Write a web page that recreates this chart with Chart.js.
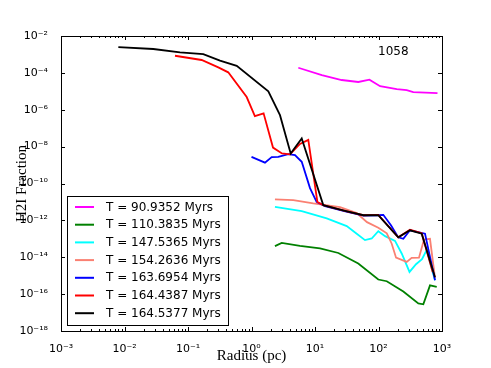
<!DOCTYPE html>
<html>
<head>
<meta charset="utf-8">
<script src="https://cdn.jsdelivr.net/npm/chart.js@4/dist/chart.umd.min.js"></script>
<style>
    html, body { margin: 0; padding: 0; background: #fff; }
    #wrap { width: 491px; height: 368px; }
</style>
</head>
<body>
<div id="wrap"><canvas id="h2Chart" width="491" height="368"></canvas></div>
<script>
// Radius (pc) and H2I fraction per snapshot
const labels = ['T = 90.9352 Myrs', 'T = 110.3835 Myrs', 'T = 147.5365 Myrs', 'T = 154.2636 Myrs',
                'T = 163.6954 Myrs', 'T = 164.4387 Myrs', 'T = 164.5377 Myrs'];
const colors = ['#ff00ff', '#008000', '#00ffff', '#fa8072', '#0000ff', '#ff0000', '#000000'];

const rad909 = [5.46, 12.8, 26.3, 48.1, 72, 106, 194, 278, 353, 849];
const h2909 = [1.9e-4, 7.6e-5, 4.1e-5, 3.2e-5, 4.3e-5, 1.9e-5, 1.3e-5, 1.17e-5, 9.1e-6, 8.0e-6];

const rad1103 = [2.34, 2.99, 5.8, 12, 23.3, 48, 99.3, 135, 246, 424, 508, 647, 826];
const h21103 = [4.0e-14, 6.0e-14, 4.1e-14, 3.0e-14, 1.7e-14, 4.6e-15, 6.2e-16, 5.0e-16, 1.4e-16, 3.1e-17, 2.8e-17, 3.0e-16, 2.5e-16];

const rad1475 = [2.34, 6.18, 15.3, 31.6, 45.4, 61.3, 78.2, 99.3, 127, 182, 232, 308, 390, 484, 581, 647, 776];
const h21475 = [5.4e-12, 3.2e-12, 1.27e-12, 4.9e-13, 1.9e-13, 8.5e-14, 1.04e-13, 2.6e-13, 1.4e-13, 7.7e-14, 1.6e-14, 1.6e-15, 4.2e-15, 7.8e-15, 2.7e-14, 5.4e-15, 5.7e-16];

const rad1542 = [2.34, 4.55, 9.4, 24.8, 45.4, 65.9, 99.3, 135, 161, 189, 278, 333, 434, 521, 647, 776];
const h21542 = [1.36e-11, 1.25e-11, 8.3e-12, 5.2e-12, 2.5e-12, 8.0e-13, 4.0e-13, 2.0e-13, 5.6e-14, 9.5e-15, 5.6e-15, 9.2e-15, 9.5e-15, 9.2e-14, 1.0e-13, 7.3e-16];

const rad1636 = [1.0, 1.63, 2.08, 2.64, 3.8, 4.84, 6.18, 8.34, 10.6, 14.4, 30, 58, 99, 119, 157, 205, 246, 313, 540, 776];
const h21636 = [2.8e-9, 1.35e-9, 2.7e-9, 2.8e-9, 3.9e-9, 3.5e-9, 1.5e-9, 5.6e-11, 1.0e-11, 5.9e-12, 3.1e-12, 1.8e-12, 1.9e-12, 2.0e-12, 5.5e-13, 1.2e-13, 1.0e-13, 2.9e-13, 1.9e-13, 5.7e-16];

const rad1644 = [0.0624, 0.164, 0.30, 0.43, 0.84, 1.13, 1.55, 2.18, 3.02, 4.04, 5.8, 7.84, 10.9, 13.5, 29.7, 57.7, 99.3, 205, 313, 479, 714];
const h21644 = [8.5e-4, 5.0e-4, 2.0e-4, 1.07e-4, 4.9e-6, 4.5e-7, 6.4e-7, 8.9e-9, 4.3e-9, 3.8e-9, 1.4e-8, 2.3e-8, 1.0e-11, 6.7e-12, 3.3e-12, 1.9e-12, 2.0e-12, 1.2e-13, 3.1e-13, 2.0e-13, 1.6e-15];

const rad1645 = [0.008, 0.0284, 0.0748, 0.174, 0.319, 0.585, 1.84, 2.81, 4.14, 6.18, 13.5, 29.7, 57.7, 99.3, 205, 313, 479, 776];
const h21645 = [2.5e-3, 1.97e-3, 1.3e-3, 1.05e-3, 4.6e-4, 2.4e-4, 1.0e-5, 5.1e-7, 4.2e-9, 2.8e-8, 6.7e-12, 3.3e-12, 1.9e-12, 1.9e-12, 1.2e-13, 2.9e-13, 1.9e-13, 8.3e-16];

const radii = [rad909, rad1103, rad1475, rad1542, rad1636, rad1644, rad1645];
const fractions = [h2909, h21103, h21475, h21542, h21636, h21644, h21645];

// tick positions (decades) and their labels
const xTickVals = [1e-3, 1e-2, 1e-1, 1e0, 1e1, 1e2, 1e3];
const xTickLabels = ['10⁻³', '10⁻²', '10⁻¹', '10⁰', '10¹', '10²', '10³'];
const yTickVals = [1e-18, 1e-16, 1e-14, 1e-12, 1e-10, 1e-8, 1e-6, 1e-4, 1e-2];
const yTickLabels = ['10⁻¹⁸', '10⁻¹⁶', '10⁻¹⁴', '10⁻¹²', '10⁻¹⁰', '10⁻⁸', '10⁻⁶', '10⁻⁴', '10⁻²'];

const datasets = labels.map((lab, i) => ({
    label: lab,
    data: radii[i].map((r, j) => ({ x: r, y: fractions[i][j] })),
    borderColor: colors[i],
    backgroundColor: colors[i],
    borderWidth: 1.8,
    pointRadius: 0,
    tension: 0,
    fill: false,
    order: labels.length - 1 - i // later snapshots on top
}));

// frame, inward ticks, run number and legend box (matplotlib look)
const framePlugin = {
    id: 'frame',
    afterDraw(chart) {
        const ctx = chart.ctx;
        const a = chart.chartArea;
        const xs = chart.scales.x, ys = chart.scales.y;
        ctx.save();
        ctx.strokeStyle = '#000';
        ctx.lineWidth = 1;
        ctx.strokeRect(Math.round(a.left) + 0.5, Math.round(a.top) + 0.5, Math.round(a.right - a.left), Math.round(a.bottom - a.top));

        ctx.beginPath();
        for (let e = -3; e <= 3; e++) {
            for (let k = 1; k <= 9; k++) {
                if (e === 3 && k > 1) break;
                const px = Math.round(xs.getPixelForValue(k * Math.pow(10, e))) + 0.5;
                const len = k === 1 ? 4 : 2;
                ctx.moveTo(px, a.bottom); ctx.lineTo(px, a.bottom - len);
                ctx.moveTo(px, a.top); ctx.lineTo(px, a.top + len);
            }
        }
        yTickVals.forEach(v => {
            const py = Math.round(ys.getPixelForValue(v)) + 0.5;
            ctx.moveTo(a.left, py); ctx.lineTo(a.left + 4, py);
            ctx.moveTo(a.right, py); ctx.lineTo(a.right - 4, py);
        });
        ctx.stroke();

        ctx.fillStyle = '#000';
        ctx.font = '12px "DejaVu Sans"';
        ctx.textBaseline = 'alphabetic';
        ctx.fillText('1058', 378, 55);

        // legend
        const lx = 67.5, ly = 196.5, lw = 161, lh = 129;
        ctx.fillStyle = '#fff';
        ctx.fillRect(lx, ly, lw, lh);
        ctx.strokeStyle = '#000';
        ctx.strokeRect(lx, ly, lw, lh);
        ctx.textBaseline = 'middle';
        chart.data.datasets.forEach((ds, i) => {
            const y = 207 + i * 17.7;
            ctx.strokeStyle = ds.borderColor;
            ctx.lineWidth = 2;
            ctx.beginPath();
            ctx.moveTo(75, y); ctx.lineTo(94, y);
            ctx.stroke();
            ctx.fillStyle = '#000';
            ctx.fillText(ds.label, 106, y + 0.5);
        });
        ctx.restore();
    }
};

new Chart(document.getElementById('h2Chart'), {
    type: 'line',
    data: { datasets: datasets },
    plugins: [framePlugin],
    options: {
        responsive: false,
        animation: false,
        layout: { padding: { left: 0, right: 49, top: 36, bottom: 0 } },
        plugins: {
            legend: { display: false },
            tooltip: { enabled: false }
        },
        scales: {
            x: {
                type: 'logarithmic',
                min: 1e-3,
                max: 1e3,
                grid: { display: false },
                border: { display: false },
                afterBuildTicks: s => { s.ticks = xTickVals.map(v => ({ value: v })); },
                afterFit: s => { s.height = 37; },
                ticks: {
                    color: '#000',
                    font: { family: '"DejaVu Sans"', size: 11 },
                    padding: 4,
                    maxRotation: 0,
                    autoSkip: false,
                    callback: (v, i) => xTickLabels[i]
                },
                title: {
                    display: true,
                    text: 'Radius (pc)',
                    color: '#000',
                    font: { family: '"Liberation Serif"', size: 15 },
                    padding: { top: 0, bottom: 3 }
                }
            },
            y: {
                type: 'logarithmic',
                min: 1e-18,
                max: 1e-2,
                grid: { display: false },
                border: { display: false },
                afterBuildTicks: s => { s.ticks = yTickVals.map(v => ({ value: v })); },
                afterFit: s => { s.width = 61; },
                ticks: {
                    color: '#000',
                    font: { family: '"DejaVu Sans"', size: 11 },
                    padding: 5,
                    autoSkip: false,
                    callback: (v, i) => yTickLabels[i]
                },
                title: {
                    display: true,
                    text: 'H2I Fraction',
                    color: '#000',
                    font: { family: '"Liberation Serif"', size: 15 },
                    padding: { top: 13, bottom: 0 }
                }
            }
        }
    }
});
</script>
</body>
</html>
